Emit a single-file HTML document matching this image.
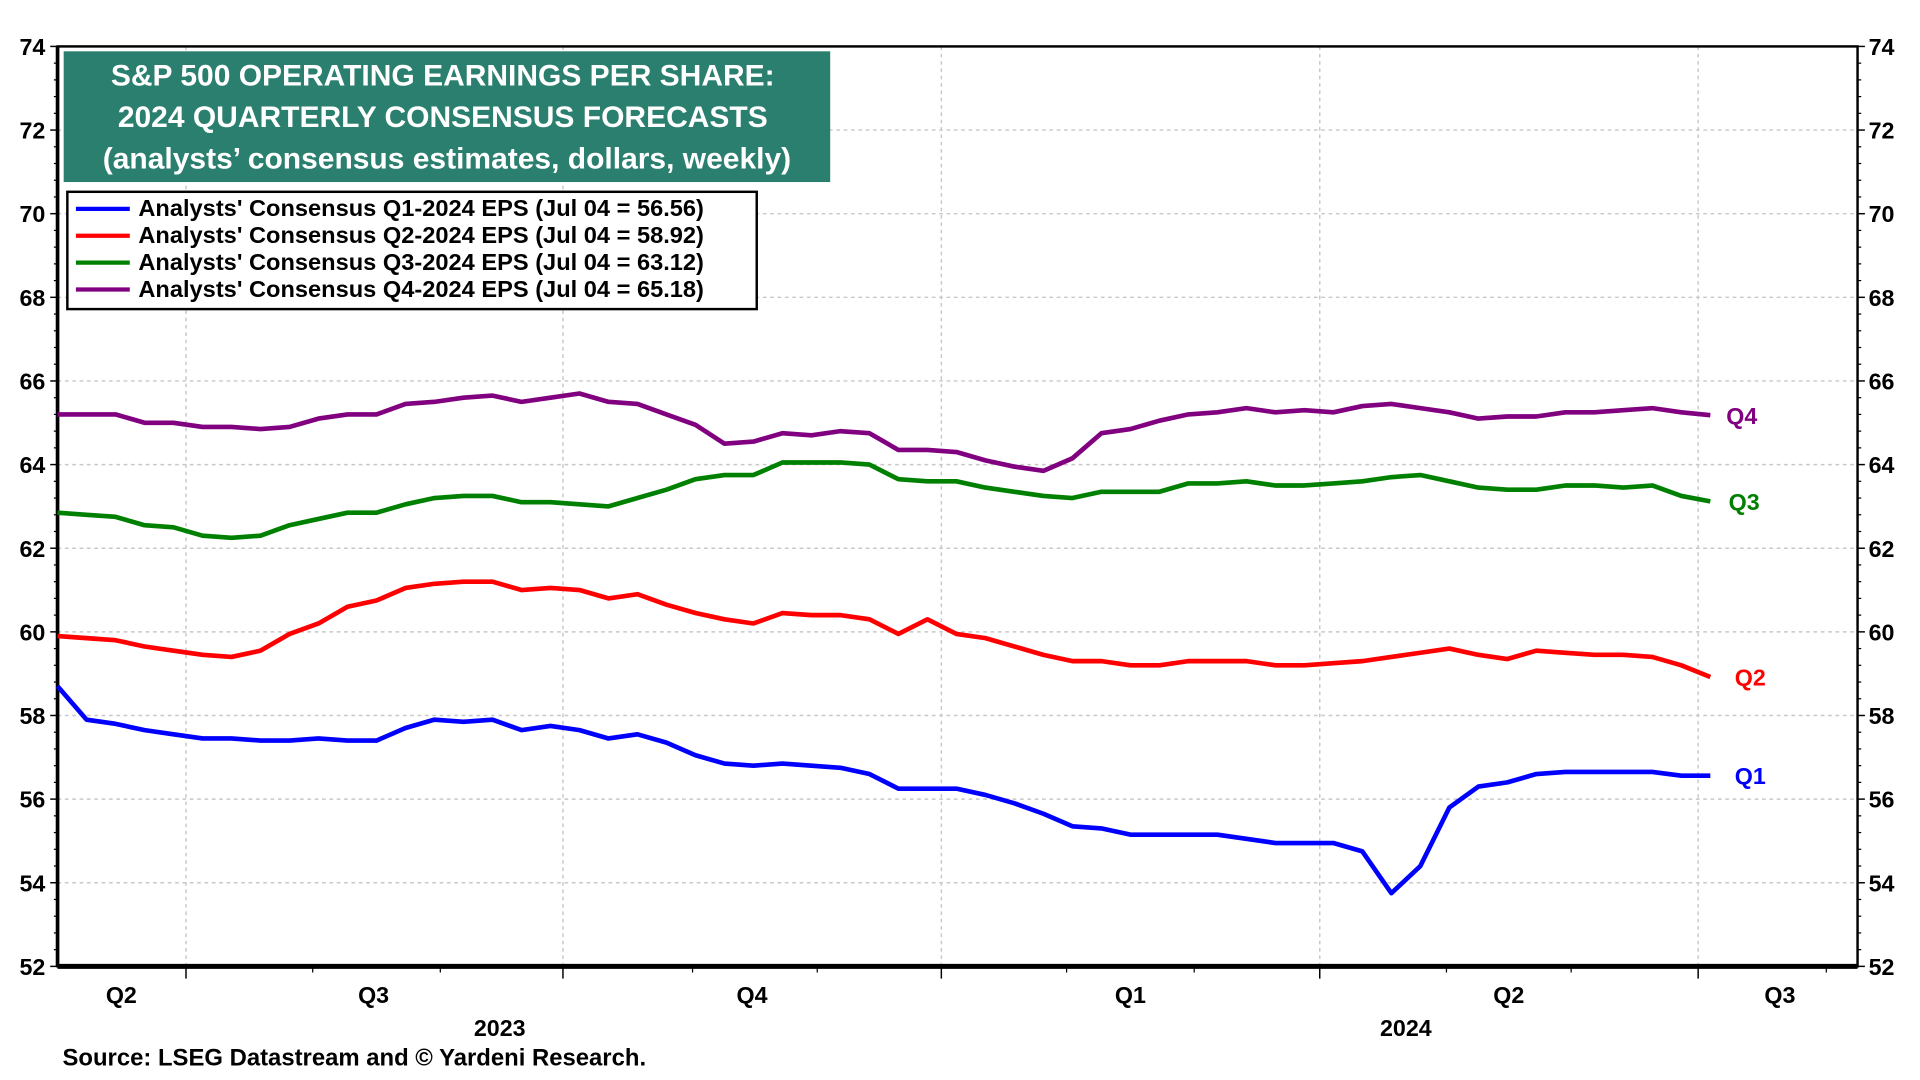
<!DOCTYPE html>
<html><head><meta charset="utf-8"><style>
html,body{margin:0;padding:0;background:#fff;}
svg{display:block;font-family:"Liberation Sans",Arial,sans-serif;font-weight:bold;}
</style></head><body>
<svg id="chart" width="1920" height="1080" viewBox="0 0 1568 884" preserveAspectRatio="none" xmlns="http://www.w3.org/2000/svg">
<g id="grid"></g>
<g id="axes"></g>
<g id="series"></g>
<rect x="52" y="42" width="626" height="107" fill="#2b7f6e"/>
<text fill="#fff" font-size="24.5" text-anchor="middle">
<tspan x="365" y="70">S&amp;P 500 OPERATING EARNINGS PER SHARE:</tspan>
<tspan x="365" y="104">2024 QUARTERLY CONSENSUS FORECASTS</tspan>
<tspan x="365" y="138">(analysts’ consensus estimates, dollars, weekly)</tspan></text>
<g>
<rect x="55" y="157" width="563" height="96" fill="#fff" stroke="#000" stroke-width="2"/>
<line x1="62" y1="171" x2="106" y2="171" stroke="#0000ff" stroke-width="3.5"/>
<text x="113" y="177" font-size="19.3">Analysts' Consensus Q1-2024 EPS (Jul 04 = 56.56)</text>
<line x1="62" y1="193" x2="106" y2="193" stroke="#ff0000" stroke-width="3.5"/>
<text x="113" y="199" font-size="19.3">Analysts' Consensus Q2-2024 EPS (Jul 04 = 58.92)</text>
<line x1="62" y1="215" x2="106" y2="215" stroke="#008000" stroke-width="3.5"/>
<text x="113" y="221" font-size="19.3">Analysts' Consensus Q3-2024 EPS (Jul 04 = 63.12)</text>
<line x1="62" y1="237" x2="106" y2="237" stroke="#800080" stroke-width="3.5"/>
<text x="113" y="243" font-size="19.3">Analysts' Consensus Q4-2024 EPS (Jul 04 = 65.18)</text>
</g>
<text x="51" y="872" font-size="19.5">Source: LSEG Datastream and © Yardeni Research.</text>
</svg>
<script>
const q1 = [58.7,57.9,57.8,57.65,57.55,57.45,57.45,57.4,57.4,57.45,57.4,57.4,57.7,57.9,57.85,57.9,57.65,57.75,57.65,57.45,57.55,57.35,57.05,56.85,56.8,56.85,56.8,56.75,56.6,56.25,56.25,56.25,56.1,55.9,55.65,55.35,55.3,55.15,55.15,55.15,55.15,55.05,54.95,54.95,54.95,54.75,53.75,54.4,55.8,56.3,56.4,56.6,56.65,56.65,56.65,56.65,56.56,56.56];
const q2 = [59.9,59.85,59.8,59.65,59.55,59.45,59.4,59.55,59.95,60.2,60.6,60.75,61.05,61.15,61.2,61.2,61.0,61.05,61.0,60.8,60.9,60.65,60.45,60.3,60.2,60.45,60.4,60.4,60.3,59.95,60.3,59.95,59.85,59.65,59.45,59.3,59.3,59.2,59.2,59.3,59.3,59.3,59.2,59.2,59.25,59.3,59.4,59.5,59.6,59.45,59.35,59.55,59.5,59.45,59.45,59.4,59.2,58.92];
const q3 = [62.85,62.8,62.75,62.55,62.5,62.3,62.25,62.3,62.55,62.7,62.85,62.85,63.05,63.2,63.25,63.25,63.1,63.1,63.05,63.0,63.2,63.4,63.65,63.75,63.75,64.05,64.05,64.05,64.0,63.65,63.6,63.6,63.45,63.35,63.25,63.2,63.35,63.35,63.35,63.55,63.55,63.6,63.5,63.5,63.55,63.6,63.7,63.75,63.6,63.45,63.4,63.4,63.5,63.5,63.45,63.5,63.25,63.12];
const q4 = [65.2,65.2,65.2,65.0,65.0,64.9,64.9,64.85,64.9,65.1,65.2,65.2,65.45,65.5,65.6,65.65,65.5,65.6,65.7,65.5,65.45,65.2,64.95,64.5,64.55,64.75,64.7,64.8,64.75,64.35,64.35,64.3,64.1,63.95,63.85,64.15,64.75,64.85,65.05,65.2,65.25,65.35,65.25,65.3,65.25,65.4,65.45,65.35,65.25,65.1,65.15,65.15,65.25,65.25,65.3,65.35,65.25,65.18];
const yTicks = [52,54,56,58,60,62,64,66,68,70,72,74];
const quarterLabels = ["Q2","Q3","Q4","Q1","Q2","Q3"];
const yearLabels = ["2023","2024"];

const L=47,R=1517,T=38,B=791,yMin=52,yMax=74;
const xW = i => L + i*23.68;
const y = v => B - (v-yMin)/(yMax-yMin)*(B-T);
const NS="http://www.w3.org/2000/svg";
function mk(tag,attrs,parent){const e=document.createElementNS(NS,tag);for(const k in attrs)e.setAttribute(k,attrs[k]);parent.appendChild(e);return e;}
const grid=document.getElementById('grid'),axes=document.getElementById('axes'),ser=document.getElementById('series');
const qBounds=[4.43,17.43,30.48,43.53,56.58];
qBounds.forEach(w=>{const l=mk('line',{x1:xW(w),x2:xW(w),y1:T,y2:B,stroke:'#c8c8c8','stroke-dasharray':'3,3','stroke-width':1.2},grid);
 
 
 mk('line',{x1:xW(w),x2:xW(w),y1:B,y2:B+10,stroke:'#000','stroke-width':1.2},axes);});
const monthW=[8.8,13.2,21.9,26.2,34.8,39.2,47.9,52.2,61.0];
monthW.forEach(w=>mk('line',{x1:xW(w),x2:xW(w),y1:B,y2:B+5,stroke:'#000','stroke-width':1},axes));
for(let k=0;k<55;k++){if(k%5!==0){const v=yMin+k*0.4;mk('line',{x1:L-3,x2:L,y1:y(v),y2:y(v),stroke:'#000'},axes);mk('line',{x1:R,x2:R+3,y1:y(v),y2:y(v),stroke:'#000'},axes);}}
yTicks.forEach(v=>{
 if(v>yMin&&v<yMax){mk('line',{x1:L,x2:R,y1:y(v),y2:y(v),stroke:'#c8c8c8','stroke-dasharray':'3,3','stroke-width':1.2},grid);}
 mk('line',{x1:L-6,x2:L,y1:y(v),y2:y(v),stroke:'#000','stroke-width':1.2},axes);
 mk('line',{x1:R,x2:R+6,y1:y(v),y2:y(v),stroke:'#000','stroke-width':1.2},axes);
 const a=mk('text',{x:L-10,y:y(v)+7,'font-size':19,'text-anchor':'end'},axes);a.textContent=v;
 
 
 const b=mk('text',{x:R+9,y:y(v)+7,'font-size':19},axes);b.textContent=v;
 
 
});
mk('rect',{x:L,y:T,width:R-L,height:B-T,fill:'none',stroke:'#000','stroke-width':2},axes);
mk('line',{x1:L,x2:R,y1:B,y2:B,stroke:'#000','stroke-width':4},axes);
mk('line',{x1:L,x2:L,y1:T,y2:B,stroke:'#000','stroke-width':3},axes);
const qMid=[2.2,10.9,23.95,37.0,50.05,59.4];
quarterLabels.forEach((s,i)=>{const t=mk('text',{x:xW(qMid[i]),y:B+30,'font-size':19,'text-anchor':'middle'},axes);t.textContent=s;
 
 });
const yrMid=[15.25,46.5];
yearLabels.forEach((s,i)=>{const t=mk('text',{x:xW(yrMid[i]),y:B+57,'font-size':19,'text-anchor':'middle'},axes);t.textContent=s;
 
 });
const seriesList=[[q1,'#0000ff','Q1',20,7],[q2,'#ff0000','Q2',20,7],[q3,'#008000','Q3',15,7],[q4,'#800080','Q4',13,7]];
seriesList.forEach(([d,c,lab,dx,dy])=>{
 const p=mk('polyline',{points:d.map((v,i)=>xW(i)+','+y(v)).join(' '),fill:'none',stroke:c,'stroke-width':3.8,'stroke-linejoin':'round'},ser);
 
 
 const n=d.length-1;
 const t=mk('text',{x:xW(n)+dx,y:y(d[n])+dy,fill:c,'font-size':19},ser);t.textContent=lab;
 
 
});
</script>
</body></html>
